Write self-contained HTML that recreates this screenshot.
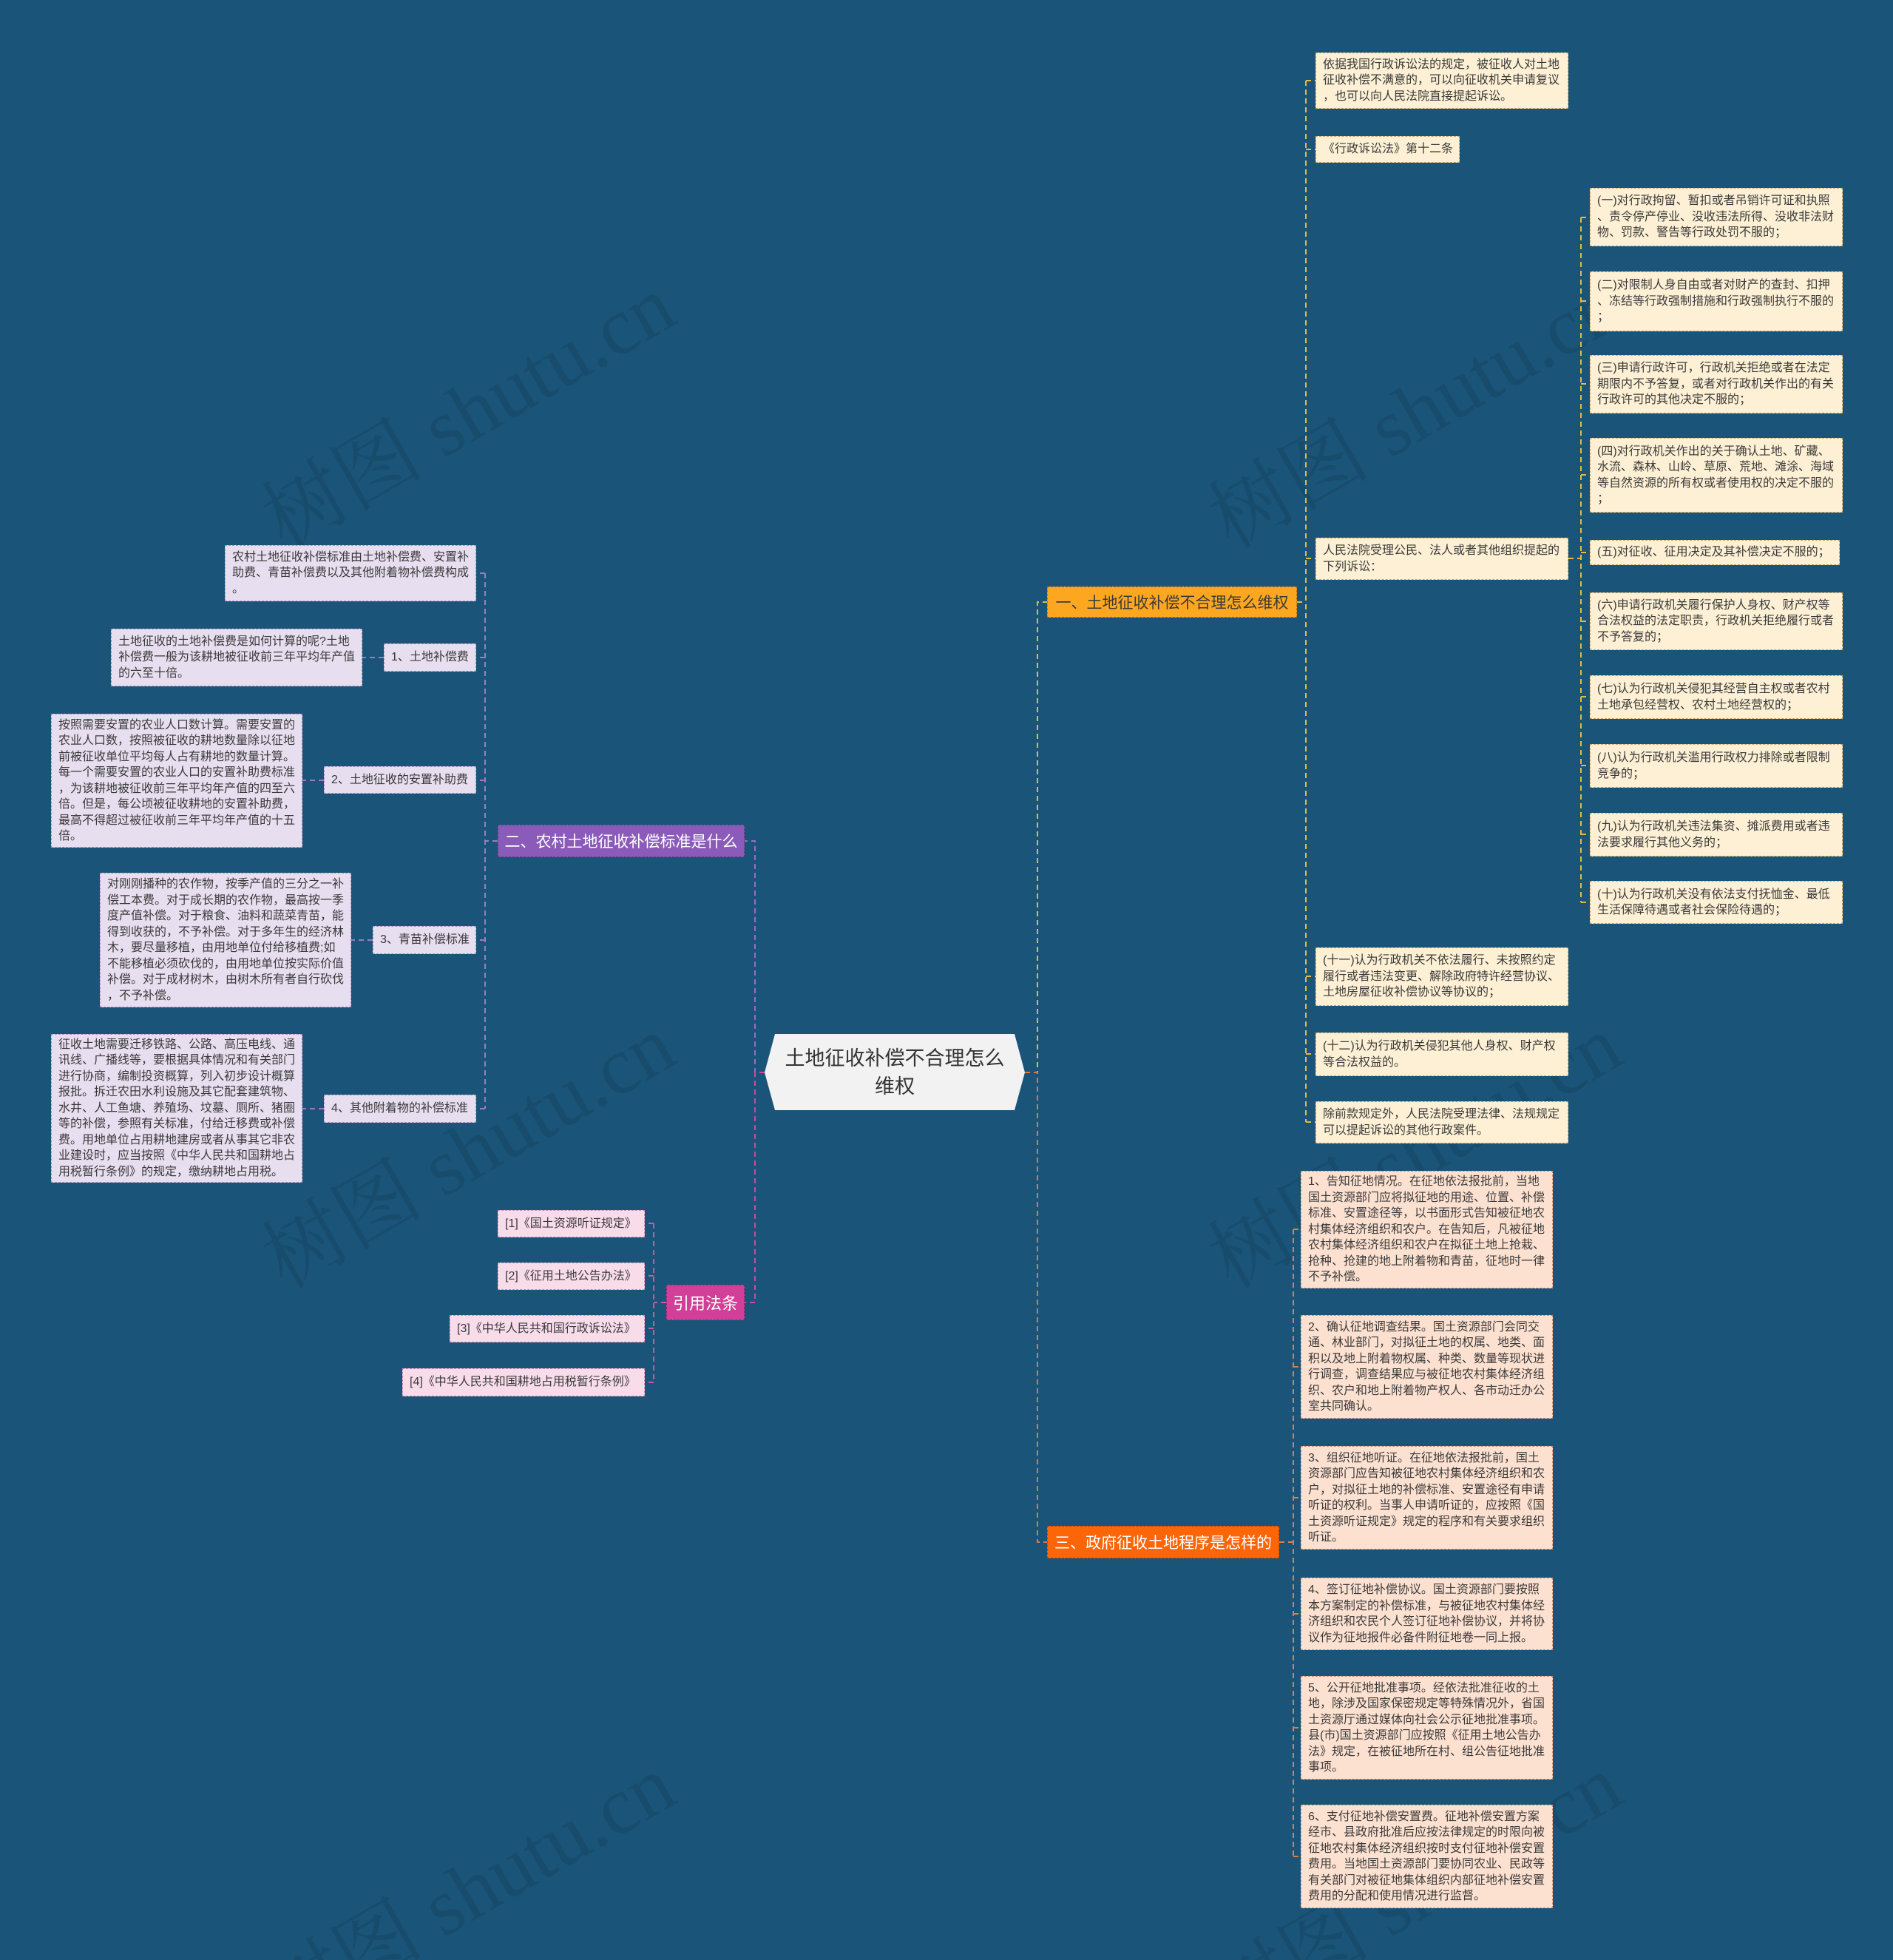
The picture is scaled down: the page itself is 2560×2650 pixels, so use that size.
<!DOCTYPE html>
<html><head><meta charset="utf-8">
<style>
body{margin:0;}
#c{position:relative;width:2560px;height:2650px;background:#1a5478;overflow:hidden;font-family:"Liberation Sans","Noto Sans CJK SC",sans-serif;}
.b{position:absolute;box-sizing:border-box;display:flex;align-items:center;padding:0 9px;font-size:16px;line-height:21.5px;color:#3a3a3a;white-space:nowrap;border:1.5px dashed rgba(0,0,0,0.25);}
.y{background:#fdf0d4;border-color:#c9a862;}
.p{background:#fde1d0;border-color:#c88e72;}
.l{background:#e7deef;border-color:#a594bb;}
.k{background:#f8dcea;border-color:#c990ad;}
.m{position:absolute;box-sizing:border-box;display:flex;align-items:center;justify-content:center;font-size:21px;white-space:nowrap;border:1.5px dashed rgba(0,0,0,0.3);}
.wm{position:absolute;font-family:"Liberation Serif","Noto Serif CJK SC",serif;font-size:110px;color:rgba(0,0,0,0.09);transform:rotate(-30deg);white-space:nowrap;}
svg{position:absolute;left:0;top:0;}
</style></head><body><div id="c">
<div class="wm" style="left:320px;top:470px">树图 shutu.cn</div>
<div class="wm" style="left:1600px;top:470px">树图 shutu.cn</div>
<div class="wm" style="left:320px;top:1470px">树图 shutu.cn</div>
<div class="wm" style="left:1600px;top:1470px">树图 shutu.cn</div>
<div class="wm" style="left:320px;top:2470px">树图 shutu.cn</div>
<div class="wm" style="left:1600px;top:2470px">树图 shutu.cn</div>

<svg width="2560" height="2650" fill="none" stroke-width="2" stroke-dasharray="7,5">
<!-- center to branch1 / branch3 -->
<path d="M1386 1450 H1403 V814 H1416" stroke="#e8b840"/>
<path d="M1386 1450 H1403 V2085 H1416" stroke="#e07a3a"/>
<!-- center left -->
<path d="M1034 1450 H1021 V1137 H1007" stroke="#9a6ac8"/>
<path d="M1034 1450 H1021 V1761 H1007" stroke="#c84a9a"/>
<!-- branch1 children -->
<g stroke="#e8b840">
<path d="M1754 814 H1766"/>
<path d="M1766 109 V1517"/>
<path d="M1766 109 H1779 M1766 202 H1779 M1766 755 H1779 M1766 1320 H1779 M1766 1425 H1779 M1766 1517 H1779"/>
<path d="M2121 755 H2138 M2138 294 V1220"/>
<path d="M2138 294 H2150 M2138 407 H2150 M2138 519 H2150 M2138 642 H2150 M2138 747 H2150 M2138 840 H2150 M2138 942 H2150 M2138 1035 H2150 M2138 1128 H2150 M2138 1220 H2150"/>
</g>
<!-- branch3 children -->
<g stroke="#d9804a">
<path d="M1730 2085 H1749 M1749 1662 V2510"/>
<path d="M1749 1662 H1759 M1749 1848 H1759 M1749 2025 H1759 M1749 2182 H1759 M1749 2336 H1759 M1749 2510 H1759"/>
</g>
<!-- branch2 children -->
<g stroke="#9a7cc0">
<path d="M673 1137 H656 M656 775 V1499"/>
<path d="M656 775 H644 M656 889 H644 M656 1055 H644 M656 1271 H644 M656 1499 H644"/>
<path d="M519 889 H490 M438 1055 H409 M504 1271 H475 M438 1499 H409"/>
</g>
<!-- cite children -->
<g stroke="#c85aa0">
<path d="M901 1761 H884 M884 1654 V1869"/>
<path d="M884 1654 H872 M884 1725 H872 M884 1796 H872 M884 1869 H872"/>
</g>
</svg>

<!-- center -->
<svg width="2560" height="2650" style="pointer-events:none"><polygon points="1048,1398 1372,1398 1386,1450 1372,1501 1048,1501 1034,1450" fill="#f2f2f2"/></svg>
<div style="position:absolute;left:1034px;top:1398px;width:352px;height:103px;display:flex;align-items:center;justify-content:center;text-align:center;font-size:27px;line-height:38px;color:#333;">土地征收补偿不合理怎么<br>维权</div>

<!-- main branches -->
<div class="m" style="left:1416px;top:793px;width:338px;height:42px;background:#fca71f;color:#3a3a3a;">一、土地征收补偿不合理怎么维权</div>
<div class="m" style="left:673px;top:1115px;width:334px;height:44px;background:#8a5bb8;color:#fff;">二、农村土地征收补偿标准是什么</div>
<div class="m" style="left:1416px;top:2063px;width:314px;height:44px;background:#fc6508;color:#fff;">三、政府征收土地程序是怎样的</div>
<div class="m" style="left:901px;top:1737px;width:106px;height:48px;background:#d23f98;color:#fff;font-size:22px;">引用法条</div>

<!-- branch1 children -->
<div class="b y" style="left:1779px;top:71px;width:342px;height:76px;">依据我国行政诉讼法的规定，被征收人对土地<br>征收补偿不满意的，可以向征收机关申请复议<br>，也可以向人民法院直接提起诉讼。</div>
<div class="b y" style="left:1779px;top:184px;width:195px;height:36px;">《行政诉讼法》第十二条</div>
<div class="b y" style="left:1779px;top:727px;width:342px;height:57px;">人民法院受理公民、法人或者其他组织提起的<br>下列诉讼：</div>
<div class="b y" style="left:1779px;top:1281px;width:342px;height:79px;">(十一)认为行政机关不依法履行、未按照约定<br>履行或者违法变更、解除政府特许经营协议、<br>土地房屋征收补偿协议等协议的；</div>
<div class="b y" style="left:1779px;top:1396px;width:342px;height:59px;">(十二)认为行政机关侵犯其他人身权、财产权<br>等合法权益的。</div>
<div class="b y" style="left:1779px;top:1489px;width:342px;height:57px;">除前款规定外，人民法院受理法律、法规规定<br>可以提起诉讼的其他行政案件。</div>

<div class="b y" style="left:2150px;top:254px;width:342px;height:79px;">(一)对行政拘留、暂扣或者吊销许可证和执照<br>、责令停产停业、没收违法所得、没收非法财<br>物、罚款、警告等行政处罚不服的；</div>
<div class="b y" style="left:2150px;top:367px;width:342px;height:81px;">(二)对限制人身自由或者对财产的查封、扣押<br>、冻结等行政强制措施和行政强制执行不服的<br>；</div>
<div class="b y" style="left:2150px;top:480px;width:342px;height:79px;">(三)申请行政许可，行政机关拒绝或者在法定<br>期限内不予答复，或者对行政机关作出的有关<br>行政许可的其他决定不服的；</div>
<div class="b y" style="left:2150px;top:592px;width:342px;height:101px;">(四)对行政机关作出的关于确认土地、矿藏、<br>水流、森林、山岭、草原、荒地、滩涂、海域<br>等自然资源的所有权或者使用权的决定不服的<br>；</div>
<div class="b y" style="left:2150px;top:730px;width:338px;height:34px;">(五)对征收、征用决定及其补偿决定不服的；</div>
<div class="b y" style="left:2150px;top:801px;width:342px;height:78px;">(六)申请行政机关履行保护人身权、财产权等<br>合法权益的法定职责，行政机关拒绝履行或者<br>不予答复的；</div>
<div class="b y" style="left:2150px;top:913px;width:342px;height:59px;">(七)认为行政机关侵犯其经营自主权或者农村<br>土地承包经营权、农村土地经营权的；</div>
<div class="b y" style="left:2150px;top:1006px;width:342px;height:59px;">(八)认为行政机关滥用行政权力排除或者限制<br>竞争的；</div>
<div class="b y" style="left:2150px;top:1099px;width:342px;height:59px;">(九)认为行政机关违法集资、摊派费用或者违<br>法要求履行其他义务的；</div>
<div class="b y" style="left:2150px;top:1191px;width:342px;height:58px;">(十)认为行政机关没有依法支付抚恤金、最低<br>生活保障待遇或者社会保险待遇的；</div>

<!-- branch3 children -->
<div class="b p" style="left:1759px;top:1583px;width:341px;height:159px;">1、告知征地情况。在征地依法报批前，当地<br>国土资源部门应将拟征地的用途、位置、补偿<br>标准、安置途径等，以书面形式告知被征地农<br>村集体经济组织和农户。在告知后，凡被征地<br>农村集体经济组织和农户在拟征土地上抢栽、<br>抢种、抢建的地上附着物和青苗，征地时一律<br>不予补偿。</div>
<div class="b p" style="left:1759px;top:1778px;width:341px;height:140px;">2、确认征地调查结果。国土资源部门会同交<br>通、林业部门，对拟征土地的权属、地类、面<br>积以及地上附着物权属、种类、数量等现状进<br>行调查，调查结果应与被征地农村集体经济组<br>织、农户和地上附着物产权人、各市动迁办公<br>室共同确认。</div>
<div class="b p" style="left:1759px;top:1955px;width:341px;height:140px;">3、组织征地听证。在征地依法报批前，国土<br>资源部门应告知被征地农村集体经济组织和农<br>户，对拟征土地的补偿标准、安置途径有申请<br>听证的权利。当事人申请听证的，应按照《国<br>土资源听证规定》规定的程序和有关要求组织<br>听证。</div>
<div class="b p" style="left:1759px;top:2133px;width:341px;height:98px;">4、签订征地补偿协议。国土资源部门要按照<br>本方案制定的补偿标准，与被征地农村集体经<br>济组织和农民个人签订征地补偿协议，并将协<br>议作为征地报件必备件附征地卷一同上报。</div>
<div class="b p" style="left:1759px;top:2266px;width:341px;height:140px;">5、公开征地批准事项。经依法批准征收的土<br>地，除涉及国家保密规定等特殊情况外，省国<br>土资源厅通过媒体向社会公示征地批准事项。<br>县(市)国土资源部门应按照《征用土地公告办<br>法》规定，在被征地所在村、组公告征地批准<br>事项。</div>
<div class="b p" style="left:1759px;top:2440px;width:341px;height:140px;">6、支付征地补偿安置费。征地补偿安置方案<br>经市、县政府批准后应按法律规定的时限向被<br>征地农村集体经济组织按时支付征地补偿安置<br>费用。当地国土资源部门要协同农业、民政等<br>有关部门对被征地集体组织内部征地补偿安置<br>费用的分配和使用情况进行监督。</div>

<!-- branch2 children -->
<div class="b l" style="left:304px;top:737px;width:340px;height:76px;">农村土地征收补偿标准由土地补偿费、安置补<br>助费、青苗补偿费以及其他附着物补偿费构成<br>。</div>
<div class="b l" style="left:519px;top:870px;width:125px;height:38px;">1、土地补偿费</div>
<div class="b l" style="left:150px;top:850px;width:340px;height:78px;">土地征收的土地补偿费是如何计算的呢?土地<br>补偿费一般为该耕地被征收前三年平均年产值<br>的六至十倍。</div>
<div class="b l" style="left:438px;top:1036px;width:206px;height:37px;">2、土地征收的安置补助费</div>
<div class="b l" style="left:69px;top:965px;width:340px;height:181px;">按照需要安置的农业人口数计算。需要安置的<br>农业人口数，按照被征收的耕地数量除以征地<br>前被征收单位平均每人占有耕地的数量计算。<br>每一个需要安置的农业人口的安置补助费标准<br>，为该耕地被征收前三年平均年产值的四至六<br>倍。但是，每公顷被征收耕地的安置补助费，<br>最高不得超过被征收前三年平均年产值的十五<br>倍。</div>
<div class="b l" style="left:504px;top:1252px;width:140px;height:38px;">3、青苗补偿标准</div>
<div class="b l" style="left:135px;top:1180px;width:340px;height:182px;">对刚刚播种的农作物，按季产值的三分之一补<br>偿工本费。对于成长期的农作物，最高按一季<br>度产值补偿。对于粮食、油料和蔬菜青苗，能<br>得到收获的，不予补偿。对于多年生的经济林<br>木，要尽量移植，由用地单位付给移植费;如<br>不能移植必须砍伐的，由用地单位按实际价值<br>补偿。对于成材树木，由树木所有者自行砍伐<br>，不予补偿。</div>
<div class="b l" style="left:438px;top:1480px;width:206px;height:38px;">4、其他附着物的补偿标准</div>
<div class="b l" style="left:69px;top:1398px;width:340px;height:201px;">征收土地需要迁移铁路、公路、高压电线、通<br>讯线、广播线等，要根据具体情况和有关部门<br>进行协商，编制投资概算，列入初步设计概算<br>报批。拆迁农田水利设施及其它配套建筑物、<br>水井、人工鱼塘、养殖场、坟墓、厕所、猪圈<br>等的补偿，参照有关标准，付给迁移费或补偿<br>费。用地单位占用耕地建房或者从事其它非农<br>业建设时，应当按照《中华人民共和国耕地占<br>用税暂行条例》的规定，缴纳耕地占用税。</div>

<!-- cite children -->
<div class="b k" style="left:673px;top:1636px;width:199px;height:37px;">[1]《国土资源听证规定》</div>
<div class="b k" style="left:673px;top:1707px;width:199px;height:37px;">[2]《征用土地公告办法》</div>
<div class="b k" style="left:608px;top:1778px;width:264px;height:37px;">[3]《中华人民共和国行政诉讼法》</div>
<div class="b k" style="left:544px;top:1850px;width:328px;height:38px;">[4]《中华人民共和国耕地占用税暂行条例》</div>
</div></body></html>
